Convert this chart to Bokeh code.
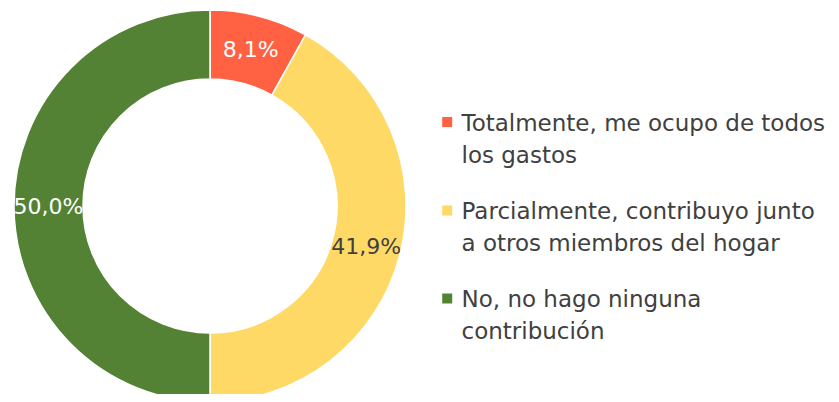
import math
from bokeh.plotting import figure
from bokeh.models import Range1d, ColumnDataSource
from bokeh.core.properties import value
from bokeh.embed import file_html
from bokeh.resources import INLINE

# ---- data ----
categories = [
    "Totalmente, me ocupo de todos\nlos gastos",
    "Parcialmente, contribuyo junto\na otros miembros del hogar",
    "No, no hago ninguna\ncontribución",
]
shares = [8.1, 41.9, 50.0]
pct_labels = ["8,1%", "41,9%", "50,0%"]
colors = ["#FF6142", "#FFD966", "#548235"]
label_colors = ["white", "#404040", "white"]

# ---- layout (screen pixels) ----
W, H = 831, 394
p = figure(width=W, height=H, output_backend="svg", toolbar_location=None,
           x_range=Range1d(0, W), y_range=Range1d(402 - H, 402),
           min_border=0, outline_line_color=None)
p.axis.visible = False
p.grid.visible = False
p.background_fill_color = "white"
p.border_fill_color = "white"

cx, cy = 209.5, 402 - 205.5
r_out, r_in = 196.0, 127.0

total = sum(shares)
starts, ends, mids = [], [], []
a = math.pi / 2
for s in shares:
    sweep = 2 * math.pi * s / total
    starts.append(a)
    ends.append(a - sweep)
    mids.append(a - sweep / 2)
    a -= sweep

src = ColumnDataSource(dict(start=starts, end=ends, color=colors))
p.annular_wedge(x=cx, y=cy, inner_radius=r_in, outer_radius=r_out,
                start_angle="start", end_angle="end", direction="clock",
                fill_color="color", line_color="white", line_width=1.5,
                source=src)

rm = (r_out + r_in) / 2
lx = [cx + rm * math.cos(m) for m in mids]
ly = [cy + rm * math.sin(m) for m in mids]
lsrc = ColumnDataSource(dict(x=lx, y=ly, t=pct_labels, c=label_colors))
p.text(x="x", y="y", text="t", text_color="c", source=lsrc,
       text_font=value("DejaVu Sans"), text_font_size="22px",
       text_align="center", text_baseline="alphabetic", y_offset=0)

# ---- legend (drawn manually) ----
leg_sq_x = 446.7
leg_text_x = 461
item_first_baseline = [122.0, 210.5, 298.5]
line_gap = 32.0
sq_y = []
tx, ty, tt = [], [], []
for i, cat in enumerate(categories):
    b = item_first_baseline[i]
    sq_y.append(402 - (b - 0.5))
    for j, line in enumerate(cat.split("\n")):
        tx.append(leg_text_x)
        ty.append(402 - (b + j * line_gap))
        tt.append(line)

p.rect(x=[leg_sq_x] * 3, y=sq_y, width=10, height=10,
       fill_color=colors, line_color=None)
p.text(x=tx, y=ty, text=tt, text_color="#404040",
       text_font=value("DejaVu Sans"), text_font_size="23px",
       text_align="left", text_baseline="alphabetic")

open("out.html", "w").write(file_html(p, INLINE))
